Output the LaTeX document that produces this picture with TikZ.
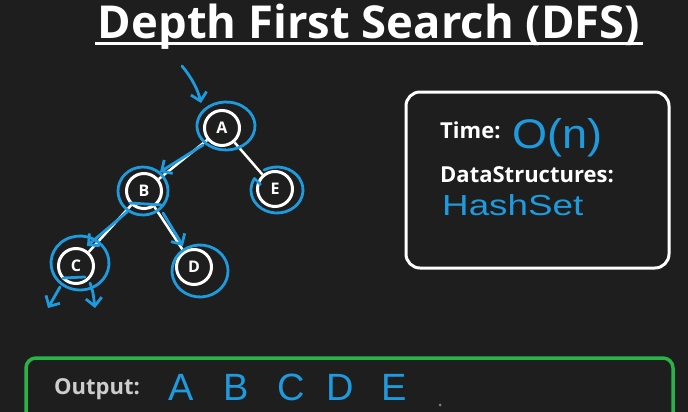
\documentclass[tikz,border=0pt]{standalone}
\usepackage{fontspec}
\setmainfont{Open Sans}
\newfontfamily\hand{Liberation Sans}
\usetikzlibrary{arrows.meta,calc}
\definecolor{bg}{RGB}{30,30,30}
\definecolor{inkblue}{RGB}{29,155,222}
\definecolor{boxgreen}{RGB}{40,180,70}
\definecolor{outgray}{RGB}{205,205,205}
\tikzset{
  treenode/.style={circle,draw=white,line width=3pt,minimum size=35pt,inner sep=0pt,
    text=white,font=\bfseries\fontsize{16}{16}\selectfont},
  edge/.style={draw=white,line width=2.5pt},
  ink/.style={draw=inkblue,line width=2.8pt,line cap=round,line join=round},
  inkarrow/.style={ink,-{Straight Barb[length=8pt,width=16pt]}},
  handtext/.style={text=inkblue,inner sep=0pt},
  boldlabel/.style={text=white,inner sep=0pt,font=\bfseries\fontsize{22}{22}\selectfont},
}
\begin{document}
\begin{tikzpicture}[x=1pt,y=-1pt]
\fill[bg] (0,0) rectangle (688,412);
\useasboundingbox (0,0) rectangle (688,412);

% title
\node[text=white,inner sep=0pt,anchor=base] (title) at (369,38)
  {\resizebox{542pt}{!}{\bfseries\fontsize{42}{42}\selectfont Depth First Search (DFS)}};
\coordinate (ul1) at (95,44);
\coordinate (ul2) at (643,44);
\draw[white,line width=3pt] (ul1) -- (ul2);

% tree
\node[treenode] (A) at (222,128) {A};
\node[treenode] (B) at (144,191) {B};
\node[treenode] (E) at (275,189) {E};
\node[treenode] (C) at (76,266) {C};
\node[treenode] (D) at (194,267) {D};
\draw[edge] (A) -- (B);
\draw[edge] (A) -- (E);
\draw[edge] (B) -- (C);
\draw[edge] (B) -- (D);

% blue annotations: loops
\draw[ink] ($(A)+(4,-2)+(200:29 and 24)$) arc[start angle=200,delta angle=385,x radius=29,y radius=24];
\draw[ink] ($(B)+(-1,0)+(190:25 and 24)$) arc[start angle=190,delta angle=370,x radius=25,y radius=24];
\draw[ink] ($(C)+(4,-3)+(150:29 and 27)$) arc[start angle=150,delta angle=365,x radius=29,y radius=27];
\draw[ink] ($(D)+(6,4)+(30:28 and 26)$) arc[start angle=30,delta angle=370,x radius=28,y radius=26];
\draw[ink] ($(E)+(2,1)+(240:26 and 23)$) arc[start angle=240,delta angle=330,x radius=26,y radius=23] -- ++(6,6);
% underlines
\draw[ink] ($(B)+(-14,12)$) -- ($(B)+(18,14)$);
\draw[ink] ($(C)+(-13,12)$) -- ($(C)+(9,11)$);

% arrows
\coordinate (in0) at (182,66);
\draw[inkarrow] (in0) .. controls (192,78) and (198,90) .. ($(A)+(-21,-25)$);
\draw[inkarrow] ($(A)+(-19,17)$) -- ($(B)+(16,-19)$);
\draw[inkarrow] ($(B)+(-17,21)$) -- ($(C)+(11,-20)$);
\draw[inkarrow] ($(B)+(19,22)$) -- ($(D)+(-11,-21)$);
\draw[inkarrow] ($(C)+(-16,21)$) -- ($(C)+(-28,42)$);
\draw[inkarrow] ($(C)+(14,17)$) .. controls ($(C)+(17,26)$) .. ($(C)+(19,42)$);

% info box
\draw[white,line width=3pt,rounded corners=14pt] (406,92) rectangle (669,268);
\node[boldlabel,anchor=base west] (time) at (440,138) {Time:};
\node[handtext,anchor=base west] (on) at (512,148) {\resizebox{90pt}{30pt}{\hand O(n)}};
\node[boldlabel,anchor=base west] (ds) at (440,182) {DataStructures:};
\node[handtext,anchor=base west] (hs) at (442,215) {\resizebox{141pt}{21pt}{\hand HashSet}};

% output box
\begin{scope}
\clip (0,0) rectangle (688,412);
\draw[boxgreen,line width=3.5pt,rounded corners=10pt] (26,358) rectangle (673,440);
\end{scope}
\node[text=outgray,inner sep=0pt,anchor=base west,font=\bfseries\fontsize{22}{22}\selectfont] (out) at (54,394) {Output:};
\foreach \l/\xx in {A/181,B/236,C/291,D/340,E/394}{
  \node[handtext,anchor=base,font=\hand\fontsize{38}{38}\selectfont] (o\l) at (\xx,400) {\l};
}
\fill[gray] (440,405) circle (1.5pt);
\end{tikzpicture}
\end{document}
